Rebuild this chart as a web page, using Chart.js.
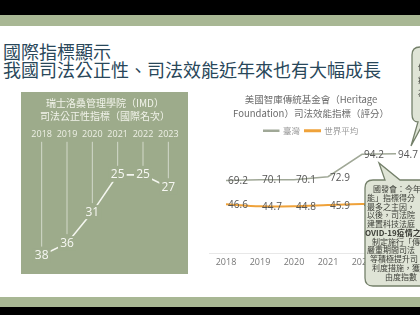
<!DOCTYPE html>
<html>
<head>
<meta charset="utf-8">
<script src="https://cdn.jsdelivr.net/npm/chart.js@4.4.1/dist/chart.umd.min.js"></script>
<style>
html, body { margin: 0; padding: 0; width: 420px; height: 315px; overflow: hidden; background: #fff; }
body { position: relative; font-family: "Noto Sans CJK TC", "Noto Sans", sans-serif; }
.bar { position: absolute; left: 0; width: 420px; }
.title { position: absolute; left: 3px; font-size: 18px; line-height: 20px; color: #29475a; white-space: nowrap; }
#panel { position: absolute; left: 21px; top: 92px; width: 167px; height: 182px; background: #9dab8b; }
#imd { position: absolute; left: 21px; top: 92px; }
#her { position: absolute; left: 200px; top: 88px; }
#callouts { position: absolute; left: 0; top: 0; }
.note { position: absolute; font-size: 8px; line-height: 8px; color: #3b3d36; white-space: nowrap; }
</style>
</head>
<body>
<div class="bar" style="top:0;height:15px;background:#000"></div>
<div class="bar" style="top:15px;height:11px;background:#a8b794"></div>
<div class="bar" style="top:297px;height:10px;background:#a8b794"></div>
<div class="bar" style="top:307px;height:8px;background:#000"></div>

<div class="title" style="top:41px">國際指標顯示</div>
<div class="title" style="top:59px">我國司法公正性、司法效能近年來也有大幅成長</div>

<div id="panel"></div>
<canvas id="imd" width="167" height="182"></canvas>
<canvas id="her" width="220" height="188"></canvas>

<svg id="callouts" width="420" height="315">
  <path d="M373 180 L385 180 L379 163 L400 180 L430 180 L430 286 L373 286 Q365 286 365 278 L365 188 Q365 180 373 180 Z"
        fill="#dfe4d6" stroke="#74806a" stroke-width="1.3"/>
  <path d="M420 47 Q412 47 412 55 L412 114 Q412 122 418 122 L411 146 L424 122 L430 122 L430 47 Z"
        fill="#dfe4d6" stroke="#74806a" stroke-width="1.3"/>
</svg>

<div class="note" style="left:373px;top:185px">國發會：今年</div>
<div class="note" style="left:367px;top:194px">能」指標得分</div>
<div class="note" style="left:367px;top:203px">最多之主因，</div>
<div class="note" style="left:367px;top:211px">以後，司法院</div>
<div class="note" style="left:367px;top:220px">建置科技法庭</div>
<div class="note" style="left:365px;top:229px;font-weight:bold">OVID-19疫情之</div>
<div class="note" style="left:372px;top:238px">制定施行「傳</div>
<div class="note" style="left:367px;top:246px">嚴重期間司法</div>
<div class="note" style="left:370px;top:255px">等積極提升司</div>
<div class="note" style="left:372px;top:264px">利度措施，獲</div>
<div class="note" style="left:385px;top:273px">由度指數</div>
<div class="note" style="left:418px;top:60px;line-height:13px">係<br>疫<br>為<br>，</div>

<script>
// IMD judicial fairness ranking (lower is better)
var imdYears = ['2018', '2019', '2020', '2021', '2022', '2023'];
var imdRank = [38, 36, 31, 25, 25, 27];

// Heritage Foundation judicial effectiveness score
var herYears = ['2018', '2019', '2020', '2021', '2022', '2023'];
var taiwanScore = [69.2, 70.1, 70.1, 72.9, 94.2, 94.7];
var worldScore = [46.6, 44.7, 44.8, 45.9, 46.9, 47.2];

var panelColor = '#9dab8b';
var cjk = '"Noto Sans CJK TC", "Noto Sans", sans-serif';

// rank labels with a patch of panel colour behind them, plus the drop lines from the year row
var imdMarks = {
  id: 'imdMarks',
  afterDatasetsDraw: function(chart) {
    var ctx = chart.ctx;
    var meta = chart.getDatasetMeta(0);
    ctx.save();
    meta.data.forEach(function(pt, i) {
      ctx.strokeStyle = 'rgba(255,255,255,0.55)';
      ctx.lineWidth = 1;
      ctx.beginPath();
      ctx.moveTo(pt.x, chart.chartArea.top - 2);
      ctx.lineTo(pt.x, pt.y - 9);
      ctx.stroke();
      ctx.fillStyle = panelColor;
      ctx.fillRect(pt.x - 9, pt.y - 7, 18, 14);
      ctx.fillStyle = '#f7f8f3';
      ctx.font = '12px "Open Sans", sans-serif';
      ctx.textAlign = 'center';
      ctx.textBaseline = 'middle';
      ctx.fillText(imdRank[i], pt.x, pt.y);
    });
    ctx.restore();
  }
};

new Chart('imd', {
  type: 'line',
  data: {
    labels: imdYears,
    datasets: [{
      data: imdRank,
      borderColor: '#f4f6ef',
      borderWidth: 1.6,
      pointRadius: 0,
      fill: false,
      tension: 0
    }]
  },
  options: {
    responsive: false,
    animation: false,
    layout: { padding: { left: 8, right: 7, top: 4, bottom: 6 } },
    plugins: {
      legend: { display: false },
      tooltip: { enabled: false },
      title: {
        display: true,
        text: ['瑞士洛桑管理學院（IMD）', '司法公正性指標（國際名次）'],
        color: '#f1f3ea',
        font: { size: 10, family: cjk, weight: 'normal', lineHeight: 1.25 },
        padding: { top: 1, bottom: 3 }
      }
    },
    scales: {
      x: {
        position: 'top',
        offset: true,
        grid: { display: false, drawTicks: false },
        border: { display: false },
        ticks: {
          color: '#eef0e6',
          font: { size: 9, family: '"Open Sans", sans-serif' },
          padding: 4,
          maxRotation: 0,
          minRotation: 0,
          autoSkip: false
        }
      },
      y: { display: false, reverse: true, min: 20, max: 40 }
    }
  },
  plugins: [imdMarks]
});

// value labels sit a little right of each point, over the line
var herLabels = {
  id: 'herLabels',
  afterDatasetsDraw: function(chart) {
    var ctx = chart.ctx;
    ctx.save();
    ctx.font = '10px "Open Sans", sans-serif';
    ctx.fillStyle = '#555';
    ctx.textAlign = 'center';
    ctx.textBaseline = 'middle';
    chart.data.datasets.forEach(function(ds, di) {
      chart.getDatasetMeta(di).data.forEach(function(pt, i) {
        ctx.fillText(ds.data[i].toFixed(1), pt.x + 12, pt.y + 1);
      });
    });
    ctx.restore();
  }
};

new Chart('her', {
  type: 'line',
  data: {
    labels: herYears,
    datasets: [
      {
        label: '臺灣',
        data: taiwanScore,
        borderColor: '#a0a897',
        backgroundColor: '#a0a897',
        borderWidth: 1.5,
        pointRadius: 0,
        fill: false,
        tension: 0
      },
      {
        label: '世界平均',
        data: worldScore,
        borderColor: '#efa23a',
        backgroundColor: '#efa23a',
        borderWidth: 2,
        pointRadius: 0,
        fill: false,
        tension: 0.3
      }
    ]
  },
  options: {
    responsive: false,
    animation: false,
    layout: { padding: { left: 9, right: 7, top: 5, bottom: 4 } },
    plugins: {
      tooltip: { enabled: false },
      title: {
        display: true,
        text: ['美國智庫傳統基金會（Heritage', 'Foundation）司法效能指標（評分）'],
        color: '#6b6b6b',
        font: { size: 9.5, family: cjk, weight: 'normal', lineHeight: 1.4 },
        padding: { top: 0, bottom: 2 }
      },
      legend: {
        labels: {
          boxWidth: 15,
          boxHeight: 1,
          padding: 5,
          color: '#9a9a9a',
          font: { size: 8.5, family: cjk }
        }
      }
    },
    scales: {
      x: {
        offset: true,
        grid: { display: false, drawTicks: false },
        border: { color: '#e8e8e8' },
        ticks: { color: '#777', font: { size: 9, family: '"Open Sans", sans-serif' }, padding: 4 }
      },
      y: { display: false, min: 0, max: 103 }
    }
  },
  plugins: [herLabels]
});
</script>
</body>
</html>
